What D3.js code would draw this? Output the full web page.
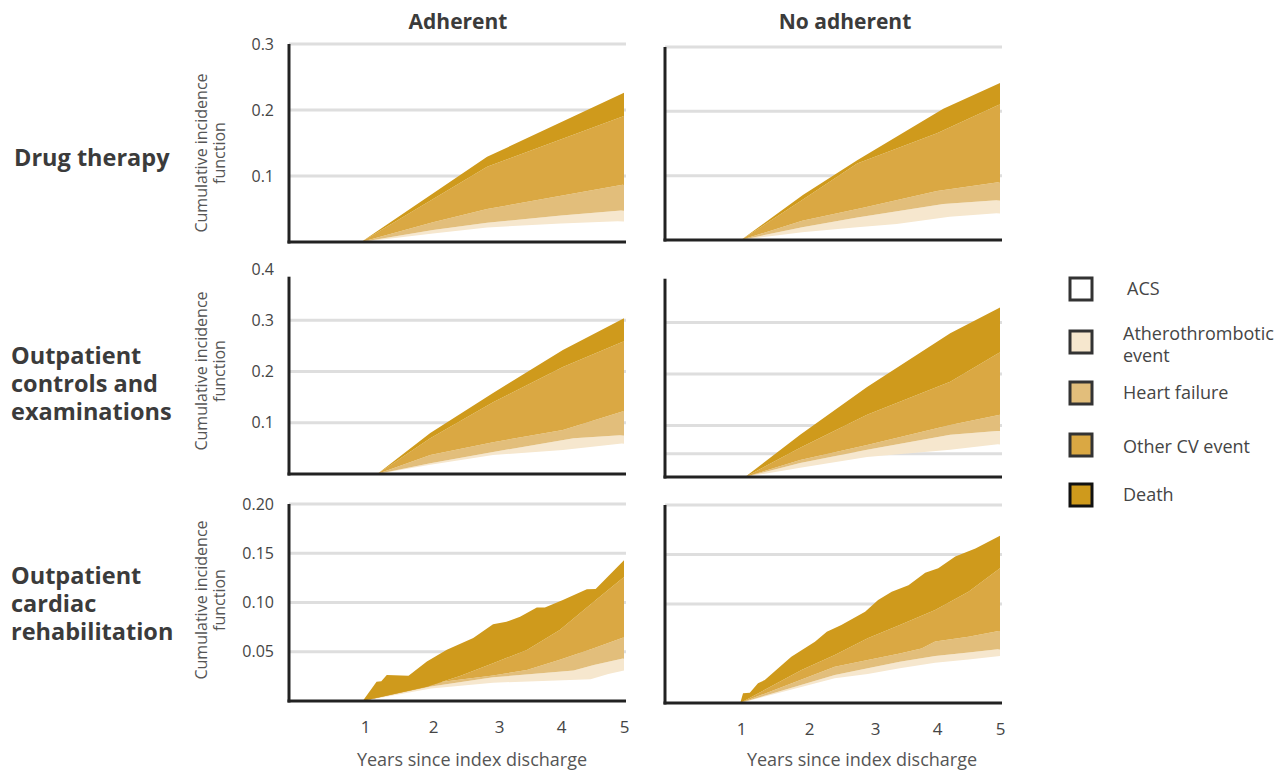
<!DOCTYPE html>
<html>
<head>
<meta charset="utf-8">
<script src="https://cdn.jsdelivr.net/npm/d3@7"></script>
<style>
  body { margin: 0; background: #fff; font-family: "Open Sans", sans-serif; }
</style>
</head>
<body>
<svg id="chart" width="1287" height="772"></svg>
<script>
// categories, bottom to top of the stack
const categories = ['ACS', 'Atherothrombotic event', 'Heart failure', 'Other CV event', 'Death'];
const colors = ['none', '#f6e7ce', '#e2be7b', '#daa843', '#cf9a1c'];
const legendColors = ['#ffffff', '#f6e7ce', '#e2be7b', '#daa843', '#cf9a1c'];

const rowLabels = [['Drug therapy'], ['Outpatient', 'controls and', 'examinations'], ['Outpatient', 'cardiac', 'rehabilitation']];
const colLabels = ['Adherent', 'No adherent'];
const xTicks = [1, 2, 3, 4, 5];
const yTicksByRow = [[0.1, 0.2, 0.3], [0.1, 0.2, 0.3, 0.4], [0.05, 0.10, 0.15, 0.20]];
const yMaxByRow = [0.3, 0.4, 0.2];
const yAxisTopByRow = [0.3, 0.385, 0.2];

// stacked upper edge of each category, [years, cumulative incidence]
// order: ACS, Atherothrombotic, Heart failure, Other CV, Death
const drugAdherent = [
  [[0.95, 0], [2.0, 0.013], [2.82, 0.022], [4.0, 0.028], [5, 0.032]],
  [[0.95, 0], [2.0, 0.018], [2.82, 0.029], [4.0, 0.040], [5, 0.048]],
  [[0.95, 0], [2.0, 0.030], [2.82, 0.050], [4.0, 0.070], [5, 0.087]],
  [[0.95, 0], [2.82, 0.114], [5, 0.191]],
  [[0.95, 0], [2.82, 0.129], [5, 0.226]]
];
const drugNoAdherent = [
  [[1.0, 0], [1.9, 0.012], [2.73, 0.020], [3.35, 0.025], [4.2, 0.036], [5, 0.042]],
  [[1.0, 0], [1.9, 0.020], [2.73, 0.035], [4.1, 0.056], [5, 0.062]],
  [[1.0, 0], [1.9, 0.030], [2.82, 0.050], [4.0, 0.076], [5, 0.090]],
  [[1.0, 0], [1.9, 0.062], [2.73, 0.119], [4.0, 0.166], [5, 0.211]],
  [[1.0, 0], [1.91, 0.070], [2.73, 0.124], [4.1, 0.204], [5, 0.244]]
];
const controlsAdherent = [
  [[1.18, 0], [1.96, 0.018], [2.91, 0.037], [4.03, 0.047], [5, 0.060]],
  [[1.18, 0], [1.96, 0.021], [2.91, 0.043], [4.2, 0.070], [5, 0.076]],
  [[1.18, 0], [1.96, 0.037], [2.91, 0.062], [4.03, 0.086], [5, 0.123]],
  [[1.18, 0], [1.96, 0.070], [2.91, 0.140], [4.03, 0.209], [5, 0.259]],
  [[1.18, 0], [1.96, 0.080], [2.91, 0.158], [4.03, 0.242], [5, 0.304]]
];
const controlsNoAdherent = [
  [[1.06, 0], [1.87, 0.018], [2.88, 0.039], [4.21, 0.053], [5, 0.064]],
  [[1.06, 0], [1.87, 0.027], [2.88, 0.053], [4.21, 0.082], [5, 0.090]],
  [[1.06, 0], [1.87, 0.033], [2.88, 0.062], [4.21, 0.101], [5, 0.121]],
  [[1.06, 0], [1.87, 0.057], [2.88, 0.121], [4.21, 0.185], [5, 0.242]],
  [[1.06, 0], [1.87, 0.082], [2.88, 0.175], [4.21, 0.279], [5, 0.329]]
];
const rehabAdherent = [
  [[0.97, 0], [1.97, 0.0128], [2.91, 0.0186], [4.47, 0.022], [4.75, 0.0274], [5, 0.031]],
  [[0.97, 0], [1.97, 0.0146], [2.91, 0.024], [4.2, 0.031], [4.52, 0.0365], [5, 0.0433]],
  [[0.97, 0], [1.97, 0.018], [2.91, 0.026], [3.45, 0.0315], [3.98, 0.042], [4.52, 0.0535], [5, 0.0647]],
  [[0.97, 0], [1.91, 0.0145], [2.41, 0.0254], [2.91, 0.0383], [3.45, 0.0518], [3.98, 0.072], [4.52, 0.1008], [5, 0.126]],
  [[0.97, 0], [1.17, 0.0196], [1.24, 0.020], [1.32, 0.0264], [1.64, 0.0257], [1.91, 0.040], [2.21, 0.052],
   [2.61, 0.064], [2.91, 0.078], [3.12, 0.0805], [3.34, 0.0856], [3.61, 0.095], [3.74, 0.095],
   [4.03, 0.1025], [4.41, 0.1134], [4.55, 0.1137], [5, 0.143]]
];
const rehabNoAdherent = [
  [[0.99, 0], [2.39, 0.025], [2.89, 0.0293], [3.40, 0.035], [3.97, 0.0407], [4.50, 0.044], [5, 0.0475]],
  [[0.99, 0], [2.39, 0.0283], [2.89, 0.035], [3.40, 0.0417], [3.97, 0.0475], [4.50, 0.051], [5, 0.0545]],
  [[0.99, 0], [2.39, 0.0367], [2.89, 0.0434], [3.40, 0.050], [3.75, 0.055], [3.97, 0.062], [4.50, 0.067], [5, 0.073]],
  [[0.99, 0], [1.89, 0.0333], [2.39, 0.0485], [2.89, 0.0653], [3.40, 0.0788], [3.97, 0.094], [4.50, 0.1125], [5, 0.136]],
  [[0.99, 0], [1.03, 0.0098], [1.13, 0.0104], [1.25, 0.020], [1.35, 0.0232], [1.74, 0.0468],
   [2.09, 0.0619], [2.27, 0.072], [2.49, 0.0788], [2.85, 0.0922], [3.05, 0.104], [3.27, 0.1125],
   [3.54, 0.119], [3.81, 0.1316], [4.02, 0.136], [4.29, 0.148], [4.61, 0.156], [5, 0.169]]
];

// gridlines drawn in each panel
const gridDrugAdherent = [0.1, 0.2, 0.3];
const gridDrugNoAdherent = [0.1, 0.2, 0.3];
const gridControlsAdherent = [0.1, 0.2, 0.3];
const gridControlsNoAdherent = [0.045, 0.1, 0.2, 0.3];
const gridRehabAdherent = [0.05, 0.1, 0.15, 0.2];
const gridRehabNoAdherent = [0.1, 0.15, 0.2];

const panels = [
  { row: 0, col: 0, series: drugAdherent, grid: gridDrugAdherent },
  { row: 0, col: 1, series: drugNoAdherent, grid: gridDrugNoAdherent },
  { row: 1, col: 0, series: controlsAdherent, grid: gridControlsAdherent },
  { row: 1, col: 1, series: controlsNoAdherent, grid: gridControlsNoAdherent },
  { row: 2, col: 0, series: rehabAdherent, grid: gridRehabAdherent },
  { row: 2, col: 1, series: rehabNoAdherent, grid: gridRehabNoAdherent }
];

// layout
const colX = [289, 665];
const panelWidth = 337;
const xStops = [0, 76, 144, 210, 272, 335]; // year 0..5 offsets inside a panel
// [baseline, y of yMax] per row, per column
const rowY = [
  [[242, 44], [240, 47]],
  [[474, 269], [477, 271]],
  [[701, 504], [703, 505]]
];
const rowLabelY = [158, 356, 576];
const yTitleY = [153, 371, 600];

const svg = d3.select('#chart');
const textDark = '#3b3b3b';
const textMid = '#454545';

panels.forEach(p => {
  const x0 = colX[p.col];
  const [base, top] = rowY[p.row][p.col];

  const x = d3.scaleLinear()
    .domain([0, 1, 2, 3, 4, 5])
    .range(xStops.map(s => x0 + s));
  const y = d3.scaleLinear()
    .domain([0, yMaxByRow[p.row]])
    .range([base, top]);

  const g = svg.append('g');

  // gridlines
  g.selectAll('line.grid')
    .data(p.grid)
    .join('line')
    .attr('class', 'grid')
    .attr('x1', x0)
    .attr('x2', x0 + panelWidth)
    .attr('y1', d => y(d))
    .attr('y2', d => y(d))
    .attr('stroke', '#dedede')
    .attr('stroke-width', 3);

  // bands: area under category edge minus area under the one below (even-odd)
  const area = d3.area()
    .x(d => x(d[0]))
    .y0(y(0))
    .y1(d => y(d[1]));

  for (let i = 1; i < categories.length; i++) {
    g.append('path')
      .attr('d', area(p.series[i]) + area(p.series[i - 1]))
      .attr('fill', colors[i])
      .attr('fill-rule', 'evenodd');
  }

  // axis lines
  g.append('line')
    .attr('x1', x0).attr('x2', x0)
    .attr('y1', y(yAxisTopByRow[p.row])).attr('y2', base + 1.5)
    .attr('stroke', '#222').attr('stroke-width', 3);
  g.append('line')
    .attr('x1', x0 - 1.5).attr('x2', x0 + panelWidth)
    .attr('y1', base).attr('y2', base)
    .attr('stroke', '#222').attr('stroke-width', 3);

  // y tick labels (left column only)
  if (p.col === 0) {
    const fmt = p.row === 2 ? d3.format('.2f') : d3.format('.1f');
    const ya = g.append('g')
      .attr('transform', `translate(${x0},0)`)
      .call(d3.axisLeft(y).tickValues(yTicksByRow[p.row]).tickSize(0).tickPadding(15).tickFormat(fmt));
    ya.select('.domain').remove();
    ya.attr('font-family', '"Open Sans", sans-serif').attr('font-size', 16);
    ya.selectAll('text').attr('fill', textMid);

    // y axis title
    const t = g.append('text')
      .attr('transform', `translate(201,${yTitleY[p.row]}) rotate(-90)`)
      .attr('text-anchor', 'middle')
      .attr('font-size', 16)
      .attr('fill', '#555');
    t.append('tspan').attr('x', 0).attr('dy', '0.35em').text('Cumulative incidence');
    t.append('tspan').attr('x', 0).attr('dy', '1.15em').text('function');
  }

  // x tick labels (bottom row only)
  if (p.row === 2) {
    const xa = g.append('g')
      .attr('transform', `translate(0,${base})`)
      .call(d3.axisBottom(x).tickValues(xTicks).tickSize(0).tickPadding(20).tickFormat(d3.format('d')));
    xa.select('.domain').remove();
    xa.attr('font-family', '"Open Sans", sans-serif').attr('font-size', 17);
    xa.selectAll('text').attr('fill', textMid);

    g.append('text')
      .attr('x', p.col === 0 ? 472 : 862)
      .attr('y', 760)
      .attr('dy', '0.35em')
      .attr('text-anchor', 'middle')
      .attr('font-size', 18)
      .attr('fill', '#555')
      .text('Years since index discharge');
  }
});

// column titles
svg.selectAll('text.col-title')
  .data(colLabels)
  .join('text')
  .attr('class', 'col-title')
  .attr('x', (d, i) => [458, 845][i])
  .attr('y', 22)
  .attr('dy', '0.35em')
  .attr('text-anchor', 'middle')
  .attr('font-size', 21)
  .attr('font-weight', 700)
  .attr('fill', textDark)
  .text(d => d);

// row titles
rowLabels.forEach((lines, r) => {
  const t = svg.append('text')
    .attr('x', 11)
    .attr('y', rowLabelY[r])
    .attr('font-size', 23.5)
    .attr('font-weight', 700)
    .attr('fill', textDark);
  lines.forEach((line, i) => {
    t.append('tspan')
      .attr('x', r === 0 ? 14 : 11)
      .attr('dy', i === 0 ? '0.35em' : 28)
      .text(line);
  });
});

// legend
const legendY = [289, 342, 393, 445, 495];
const legend = svg.append('g');
categories.forEach((c, i) => {
  legend.append('rect')
    .attr('x', 1070)
    .attr('y', legendY[i] - 11)
    .attr('width', 22)
    .attr('height', 22)
    .attr('fill', legendColors[i])
    .attr('stroke', i === 4 ? '#111' : '#333')
    .attr('stroke-width', 3);
  const t = legend.append('text')
    .attr('x', 1123)
    .attr('font-size', 18)
    .attr('fill', textMid);
  if (c === 'Atherothrombotic event') {
    t.append('tspan').attr('x', 1123).attr('y', 334).attr('dy', '0.35em').text('Atherothrombotic');
    t.append('tspan').attr('x', 1123).attr('y', 356).attr('dy', '0.35em').text('event');
  } else {
    t.attr('x', c === 'ACS' ? 1127 : 1123)
      .attr('y', legendY[i] + (c === 'Other CV event' ? 2 : 0))
      .attr('dy', '0.35em')
      .text(c);
  }
});
</script>
</body>
</html>
